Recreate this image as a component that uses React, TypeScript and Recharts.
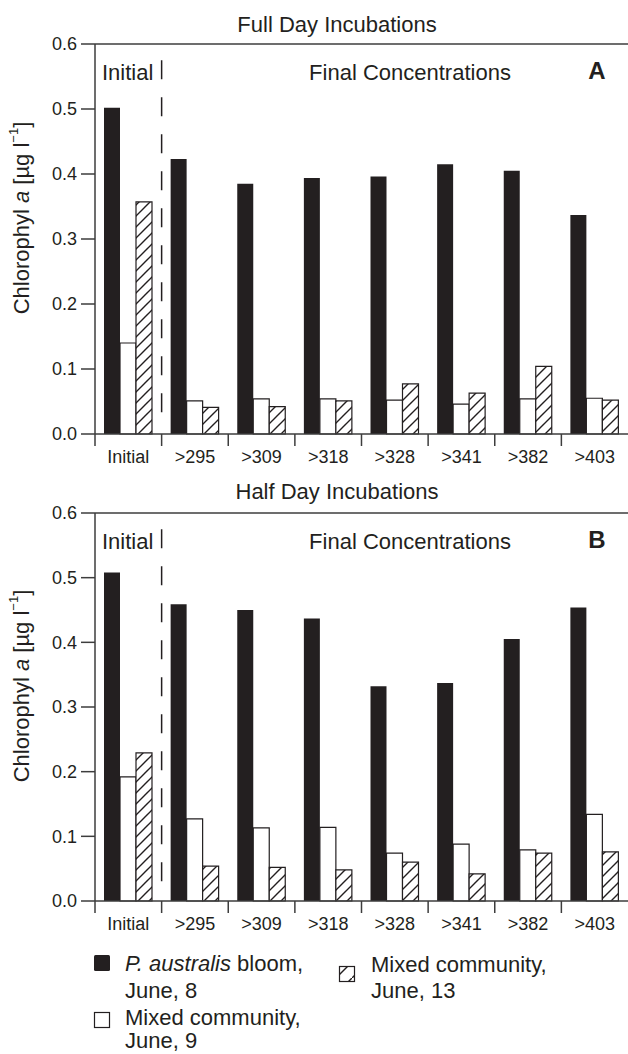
import { BarChart, Bar, XAxis, YAxis, ReferenceLine } from "recharts";

const categories = ["Initial", ">295", ">309", ">318", ">328", ">341", ">382", ">403"];

// Full day incubations (panel A)
const fullBloom = [0.502, 0.423, 0.385, 0.394, 0.396, 0.415, 0.405, 0.337];
const fullMixed9 = [0.14, 0.051, 0.054, 0.054, 0.052, 0.046, 0.054, 0.055];
const fullMixed13 = [0.357, 0.041, 0.042, 0.051, 0.077, 0.063, 0.104, 0.052];

// Half day incubations (panel B)
const halfBloom = [0.508, 0.459, 0.45, 0.437, 0.332, 0.337, 0.405, 0.454];
const halfMixed9 = [0.192, 0.127, 0.113, 0.114, 0.074, 0.088, 0.079, 0.134];
const halfMixed13 = [0.229, 0.054, 0.052, 0.048, 0.06, 0.042, 0.074, 0.076];

const yTicks = [0, 0.1, 0.2, 0.3, 0.4, 0.5, 0.6];

const INK = "#231f20";
const AXIS = "#3d3d3d";
const FONT = "'Liberation Sans', Arial, Helvetica, sans-serif";
const W = 628;
const Y_AXIS_W = 95;
const BAND = (W - Y_AXIS_W) / categories.length;

function BoundaryTick(props: any) {
  const { x, y, payload } = props;
  return (
    <g>
      <line
        x1={x - BAND / 2}
        x2={x - BAND / 2}
        y1={y}
        y2={y + 12}
        stroke={AXIS}
        strokeWidth={1.5}
      />
      <text
        x={x}
        y={y + 16}
        dy="0.71em"
        textAnchor="middle"
        fontSize={18}
        fill={INK}
        fontFamily={FONT}
      >
        {payload.value}
      </text>
    </g>
  );
}

function YTitle(props: any) {
  const { viewBox } = props;
  const cx = viewBox.x + 21;
  const cy = viewBox.y + viewBox.height / 2 - 21;
  return (
    <text
      x={cx}
      y={cy}
      transform={`rotate(-90 ${cx} ${cy})`}
      textAnchor="middle"
      dominantBaseline="central"
      fontSize={22}
      fill={INK}
      fontFamily={FONT}
    >
      Chlorophyl <tspan fontStyle="italic">a</tspan> [µg l
      <tspan dy={-8} fontSize={13}>
        −1
      </tspan>
      <tspan dy={8}>]</tspan>
    </text>
  );
}

interface PanelProps {
  title: string;
  letter: string;
  bloom: number[];
  mixed9: number[];
  mixed13: number[];
  top: number;
  marginTop: number;
}

function Panel({ title, letter, bloom, mixed9, mixed13, top, marginTop }: PanelProps) {
  const data = categories.map((name, i) => ({
    name,
    bloom: bloom[i],
    mixed9: mixed9[i],
    mixed13: mixed13[i],
  }));
  const pid = "hatch" + letter;
  return (
    <div style={{ position: "absolute", left: 0, top }}>
      <BarChart
        width={W}
        height={470}
        data={data}
        margin={{ top: marginTop, right: 0, bottom: 0, left: 0 }}
        barGap={0}
      >
        <defs>
          <pattern id={pid} patternUnits="userSpaceOnUse" width={11} height={11}>
            <rect width={11} height={11} fill="#fff" />
            <path
              d="M0,11 L11,0 M-3,3 L3,-3 M8,14 L14,8"
              stroke={INK}
              strokeWidth={1.4}
            />
          </pattern>
        </defs>
        <XAxis
          xAxisId="cat"
          dataKey="name"
          height={36}
          interval={0}
          tickLine={false}
          tickSize={0}
          tickMargin={0}
          tick={<BoundaryTick />}
          axisLine={{ stroke: AXIS, strokeWidth: 1.5 }}
        />
        <YAxis
          width={Y_AXIS_W}
          domain={[0, 0.6]}
          ticks={yTicks}
          interval={0}
          tickSize={14}
          tickMargin={4}
          tickFormatter={(v: number) => v.toFixed(1)}
          tick={{ fontSize: 18, fill: INK, fontFamily: FONT }}
          tickLine={{ stroke: AXIS, strokeWidth: 1.5 }}
          axisLine={{ stroke: AXIS, strokeWidth: 1.5 }}
          label={{ content: (p: any) => <YTitle {...p} /> }}
        />
        <ReferenceLine xAxisId="cat" y={0.6} stroke={AXIS} strokeWidth={1.5} />
        <Bar xAxisId="cat" dataKey="bloom" barSize={16} fill={INK} isAnimationActive={false} />
        <Bar
          xAxisId="cat"
          dataKey="mixed9"
          barSize={16}
          fill="#fff"
          stroke={INK}
          strokeWidth={1.2}
          isAnimationActive={false}
        />
        <Bar
          xAxisId="cat"
          dataKey="mixed13"
          barSize={16}
          fill={`url(#${pid})`}
          stroke={INK}
          strokeWidth={1.2}
          isAnimationActive={false}
        />
        <ReferenceLine
          xAxisId="cat"
          position="start"
          segment={[
            { x: categories[1], y: 0.575 },
            { x: categories[1], y: 0.03 },
          ]}
          stroke={INK}
          strokeWidth={1.5}
          strokeDasharray="19 18"
        />
        <text x={337} y={32} textAnchor="middle" fontSize={22} fill={INK} fontFamily={FONT}>
          {title}
        </text>
        <text x={102} y={marginTop + 36} fontSize={22} fill={INK} fontFamily={FONT}>
          Initial
        </text>
        <text x={410} y={marginTop + 36} textAnchor="middle" fontSize={22} fill={INK} fontFamily={FONT}>
          Final Concentrations
        </text>
        <text
          x={597}
          y={marginTop + 35}
          textAnchor="middle"
          fontSize={24}
          fontWeight="bold"
          fill={INK}
          fontFamily={FONT}
        >
          {letter}
        </text>
      </BarChart>
    </div>
  );
}

function Legend() {
  return (
    <svg
      width={W}
      height={124}
      style={{ position: "absolute", left: 0, top: 930 }}
      fontFamily={FONT}
      fontSize={22}
      fill={INK}
    >
      <defs>
        <pattern id="hatchL" patternUnits="userSpaceOnUse" width={16} height={16}>
          <rect width={16} height={16} fill="#fff" />
          <path d="M0,16 L16,0" stroke={INK} strokeWidth={1.4} />
        </pattern>
      </defs>
      <rect x={94} y={25} width={16} height={16} rx={1.5} fill={INK} />
      <text x={125} y={41}>
        <tspan fontStyle="italic">P. australis</tspan> bloom,
      </text>
      <text x={125} y={68}>June, 8</text>
      <rect x={94.5} y={82.5} width={15} height={15} fill="#fff" stroke={INK} strokeWidth={1.2} />
      <text x={125} y={95}>Mixed community,</text>
      <text x={125} y={118}>June, 9</text>
      <rect
        x={339.5}
        y={36.5}
        width={15}
        height={15}
        fill="url(#hatchL)"
        stroke={INK}
        strokeWidth={1.2}
      />
      <text x={371} y={42}>Mixed community,</text>
      <text x={371} y={68}>June, 13</text>
    </svg>
  );
}

export default function App() {
  return (
    <div
      style={{
        position: "absolute",
        left: 0,
        top: 0,
        width: W,
        height: 1054,
        background: "#fff",
        overflow: "hidden",
        fontFamily: FONT,
      }}
    >
      <Panel
        title="Full Day Incubations"
        letter="A"
        bloom={fullBloom}
        mixed9={fullMixed9}
        mixed13={fullMixed13}
        top={0}
        marginTop={44}
      />
      <Panel
        title="Half Day Incubations"
        letter="B"
        bloom={halfBloom}
        mixed9={halfMixed9}
        mixed13={halfMixed13}
        top={467}
        marginTop={46}
      />
      <Legend />
    </div>
  );
}
